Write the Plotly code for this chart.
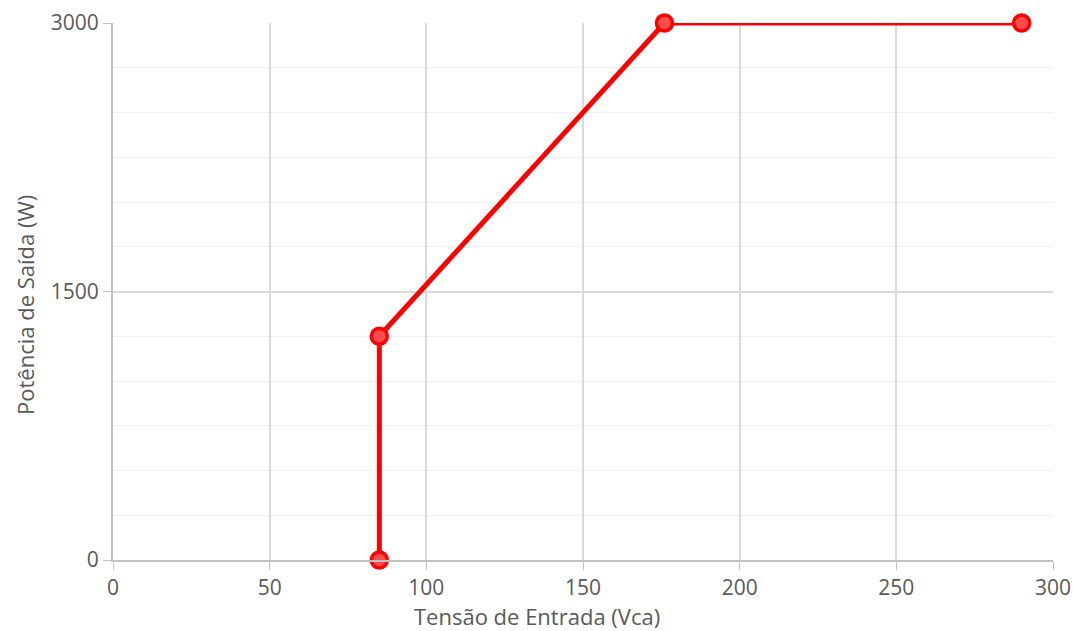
import plotly.graph_objects as go

tensao = [85, 85, 176, 290]
potencia = [0, 1250, 3000, 3000]
x_ticks = [0, 50, 100, 150, 200, 250, 300]
y_ticks = [0, 1500, 3000]
x_title = "Tensão de Entrada (Vca)"
y_title = "Potência de Saída (W)"

W, H = 1074, 631
PX0, PX1, PY0, PY1 = 113, 1053, 23, 560
L, R, T, B = PX0, W - PX1, PY0, H - PY1
FONT = "Open Sans"
TXT = "#595959"

fig = go.Figure()
fig.add_trace(go.Scatter(
    x=tensao, y=potencia, mode="lines+markers",
    line=dict(color="#ff0000", width=5),
    marker=dict(size=16, color="#ff4d4d", line=dict(color="#ff0000", width=3.5)),
    cliponaxis=False, showlegend=False,
))

fig.update_layout(
    width=W, height=H,
    margin=dict(l=L, r=R, t=T, b=B, autoexpand=False),
    paper_bgcolor="white", plot_bgcolor="white",
    font=dict(family=FONT, color=TXT, size=21),
    xaxis=dict(
        range=[0, 300], tickvals=x_ticks, ticks="outside", ticklen=8,
        tickcolor="#c0c0c0", showline=True, linecolor="#c0c0c0", linewidth=2,
        showgrid=True, gridcolor="#dadada", gridwidth=1.5, zeroline=False,
        tickfont=dict(size=21, color=TXT),
    ),
    yaxis=dict(
        range=[0, 3000], tickvals=y_ticks, ticks="outside", ticklen=8,
        tickcolor="#c0c0c0", showline=True, linecolor="#c0c0c0", linewidth=2,
        showgrid=True, gridcolor="#dadada", gridwidth=1.5, zeroline=False,
        tickfont=dict(size=21, color=TXT),
        minor=dict(dtick=250, showgrid=True, gridcolor="#f0f0f0", gridwidth=1, ticks=""),
    ),
    annotations=[
        dict(text=x_title, xref="paper", yref="paper",
             x=(537 - PX0) / (PX1 - PX0),
             y=-(616 - PY1) / (PY1 - PY0),
             showarrow=False, xanchor="center", yanchor="middle",
             font=dict(size=22, color=TXT, family=FONT)),
        dict(text=y_title, xref="paper", yref="paper", textangle=-90,
             x=-(PX0 - 25) / (PX1 - PX0),
             y=(PY1 - 305) / (PY1 - PY0),
             showarrow=False, xanchor="center", yanchor="middle",
             font=dict(size=22, color=TXT, family=FONT)),
    ],
)

fig.write_html(
    "out.html",
    config={"displayModeBar": False},
    post_script="document.body.style.margin='0';document.body.style.overflow='hidden';",
)
